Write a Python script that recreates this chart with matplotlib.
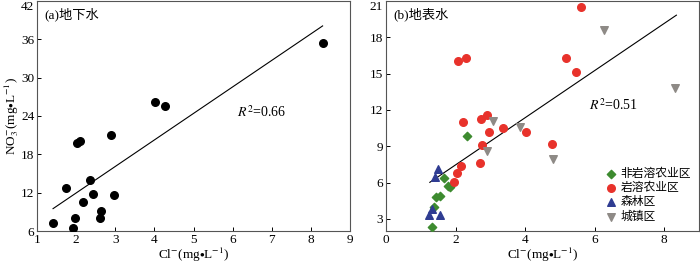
import matplotlib.pyplot as plt

plt.rcParams['font.family'] = ['Liberation Serif', 'Noto Sans CJK SC']
plt.rcParams['mathtext.fontset'] = 'stix'
plt.rcParams['font.size'] = 9.5

# (a) groundwater
gw_cl = [1.41, 1.74, 1.92, 1.98, 2.02, 2.09, 2.17, 2.36, 2.43, 2.61, 2.63, 2.88, 2.96, 4.01, 4.26, 8.30]
gw_no3 = [7.25, 12.7, 6.5, 8.0, 19.8, 20.1, 10.5, 14.0, 11.8, 8.1, 9.1, 21.0, 11.7, 26.2, 25.6, 35.5]
gw_fit_x = [1.41, 8.30]
gw_fit_y = [9.5, 38.1]

# (b) surface water, by land use
nonkarst_cl = [2.34, 1.67, 1.78, 1.83, 1.43, 1.54, 1.37, 1.32]
nonkarst_no3 = [9.86, 6.38, 5.75, 5.66, 4.78, 4.89, 3.96, 2.37]
karst_cl = [2.06, 2.30, 5.62, 5.19, 5.46, 2.90, 2.74, 2.21, 3.35, 2.96, 4.02, 2.77, 4.76, 2.69, 2.17, 2.04, 1.95]
karst_no3 = [16.07, 16.29, 20.5, 16.3, 15.16, 11.56, 11.29, 11.04, 10.55, 10.19, 10.14, 9.09, 9.15, 7.61, 7.34, 6.79, 6.02]
forest_cl = [1.50, 1.41, 1.32, 1.24, 1.55]
forest_no3 = [7.1, 6.45, 3.8, 3.3, 3.3]
urban_cl = [6.26, 8.32, 3.07, 3.86, 2.91, 4.80]
urban_no3 = [18.6, 13.8, 11.1, 10.6, 8.65, 7.95]
sw_fit_x = [1.26, 8.35]
sw_fit_y = [6.02, 19.83]

fig = plt.figure(figsize=(7, 2.63), dpi=100)
W, H = 700, 263
ax1 = fig.add_axes([37 / W, 32 / H, (350 - 37) / W, (262 - 32) / H])
ax2 = fig.add_axes([386 / W, 32 / H, (699 - 386) / W, (262 - 32) / H])

xlab = r'Cl$^{-}$(mg$\bullet$L$^{-1}$)'

ax1.scatter(gw_cl, gw_no3, s=30, color='black', zorder=3)
ax1.plot(gw_fit_x, gw_fit_y, color='black', lw=0.8)
ax1.set_xlim(1, 9)
ax1.set_ylim(6, 42)
ax1.set_xticks(range(1, 10))
ax1.set_yticks(range(6, 43, 6))
ax1.text(6.1, 24.6, r'$R^2$=0.66', fontsize=10, va='center')
ax1.text(0.025, 0.97, '(a)地下水', transform=ax1.transAxes, va='top', ha='left', fontsize=9.5)
ax1.set_xlabel(xlab, labelpad=0, fontsize=9.5)
ax1.set_ylabel(r'NO$_3^{-}$(mg$\bullet$L$^{-1}$)', labelpad=0, fontsize=9.5)

ax2.scatter(nonkarst_cl, nonkarst_no3, marker='D', s=18, color='#3d8b2f', label='非岩溶农业区', zorder=3)
ax2.scatter(karst_cl, karst_no3, marker='o', s=30, color='#e8322b', label='岩溶农业区', zorder=3)
ax2.scatter(forest_cl, forest_no3, marker='^', s=30, color='#2f3c92', label='森林区', zorder=3)
ax2.scatter(urban_cl, urban_no3, marker='v', s=30, color='#8e8a86', label='城镇区', zorder=3)
ax2.plot(sw_fit_x, sw_fit_y, color='black', lw=0.8)
ax2.set_xlim(0, 9)
ax2.set_ylim(2, 21)
ax2.set_xticks(range(0, 9, 2))
ax2.set_yticks(range(3, 22, 3))
ax2.text(5.83, 12.4, r'$R^2$=0.51', fontsize=10, va='center')
ax2.text(0.025, 0.97, '(b)地表水', transform=ax2.transAxes, va='top', ha='left', fontsize=9.5)
ax2.set_xlabel(xlab, labelpad=0, fontsize=9.5)
ax2.legend(loc='lower right', frameon=False, fontsize=8.5, handletextpad=0.1,
           labelspacing=0.2, borderaxespad=0.5, handlelength=1.3, borderpad=0.2)

for ax in (ax1, ax2):
    ax.tick_params(direction='in', length=3, width=0.7, labelsize=9.5, pad=2)
    for sp in ax.spines.values():
        sp.set_linewidth(0.8)
        sp.set_color('#555555')
    ax.get_yticklabels()[-1].set_va('top')

fig.savefig('out.png', dpi=100)
